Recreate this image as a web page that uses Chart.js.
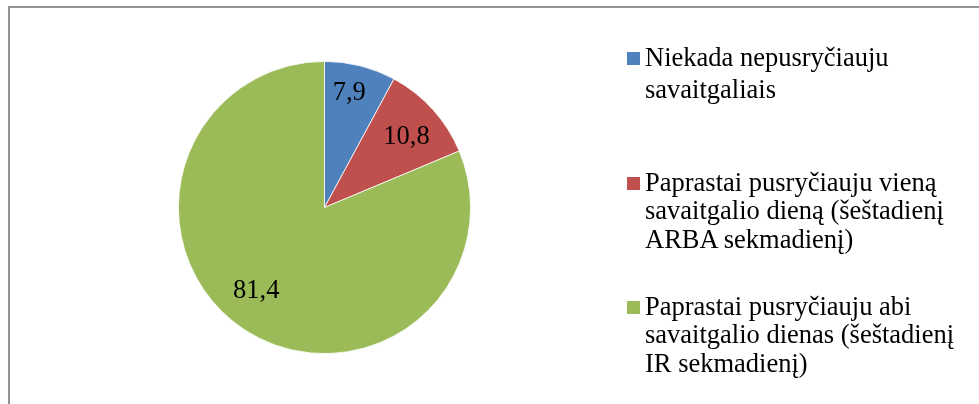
<!DOCTYPE html>
<html>
<head>
<meta charset="utf-8">
<script src="https://cdn.jsdelivr.net/npm/chart.js@4/dist/chart.umd.min.js"></script>
<style>
  html, body { margin: 0; padding: 0; background: #fff; }
  #wrap { position: relative; width: 979px; height: 404px; overflow: hidden; }
  #frame { position: absolute; left: 8px; top: 6px; width: 1100px; height: 500px;
           border-left: 2px solid #929292; border-top: 2px solid #929292; box-sizing: border-box; }
  #c { position: absolute; left: 0; top: 0; }
  #legend { position: absolute; left: 0; top: 0; font-family: "Liberation Serif", "Times New Roman", serif;
            font-size: 26.5px; color: #000; }
  .item { position: absolute; left: 645px; white-space: nowrap; }
  .box { position: absolute; left: -18px; width: 13px; height: 13px; }
</style>
</head>
<body>
<div id="wrap">
  <div id="frame"></div>
  <canvas id="c" width="979" height="404"></canvas>
  <div id="legend"></div>
</div>
<script>
// ---- data ----
const categories = [
  ["Niekada nepusryčiauju", "savaitgaliais"],
  ["Paprastai pusryčiauju vieną", "savaitgalio dieną (šeštadienį", "ARBA sekmadienį)"],
  ["Paprastai pusryčiauju abi", "savaitgalio dienas (šeštadienį", "IR sekmadienį)"]
];
const values = [7.9, 10.8, 81.4];
const valueLabels = ["7,9", "10,8", "81,4"];
const colors = ["#4F81BD", "#C0504D", "#9BBB59"];

// label placement styling (fraction of radius, angle offset in degrees)
const labelRadius = [0.80, 0.74, 0.74];
const labelAngleOffset = [-2, 1.5, 5.5];
// legend item layout (baseline of first line, line height)
const legendBaselines = [65.7, 190.7, 315];
const legendLineHeights = [32, 28.5, 28.5];
const legendFontSize = 26.5;

const sliceLabels = {
  id: 'sliceLabels',
  afterDatasetsDraw(chart) {
    const ctx = chart.ctx;
    const meta = chart.getDatasetMeta(0);
    ctx.save();
    ctx.font = '26.5px "Liberation Serif", "Times New Roman", serif';
    ctx.fillStyle = '#000';
    ctx.textAlign = 'center';
    ctx.textBaseline = 'middle';
    meta.data.forEach((arc, i) => {
      const p = arc.getProps(['x', 'y', 'startAngle', 'endAngle', 'outerRadius'], true);
      const mid = (p.startAngle + p.endAngle) / 2 + labelAngleOffset[i] * Math.PI / 180;
      const r = p.outerRadius * labelRadius[i];
      ctx.fillText(valueLabels[i], p.x + Math.cos(mid) * r, p.y + Math.sin(mid) * r);
    });
    ctx.restore();
  }
};

const chart = new Chart(document.getElementById('c'), {
  type: 'pie',
  data: {
    labels: categories,
    datasets: [{
      data: values,
      backgroundColor: colors,
      borderColor: '#ffffff',
      borderWidth: 0.8
    }]
  },
  options: {
    responsive: false,
    animation: false,
    events: [],
    layout: { padding: { left: 178, right: 508, top: 61, bottom: 50 } },
    plugins: {
      legend: { display: false },
      tooltip: { enabled: false }
    }
  },
  plugins: [sliceLabels]
});

// HTML legend built from the chart's data
const leg = document.getElementById('legend');
chart.data.labels.forEach((lines, i) => {
  const lh = legendLineHeights[i];
  const baseInLine = (lh - 1.107 * legendFontSize) / 2 + 0.891 * legendFontSize;
  const item = document.createElement('div');
  item.className = 'item';
  item.style.top = (legendBaselines[i] - baseInLine) + 'px';
  item.style.lineHeight = lh + 'px';
  const box = document.createElement('span');
  box.className = 'box';
  box.style.background = chart.data.datasets[0].backgroundColor[i];
  box.style.top = (baseInLine - 13.5) + 'px';
  item.appendChild(box);
  lines.forEach((ln, j) => {
    if (j) item.appendChild(document.createElement('br'));
    item.appendChild(document.createTextNode(ln));
  });
  leg.appendChild(item);
});
</script>
</body>
</html>
